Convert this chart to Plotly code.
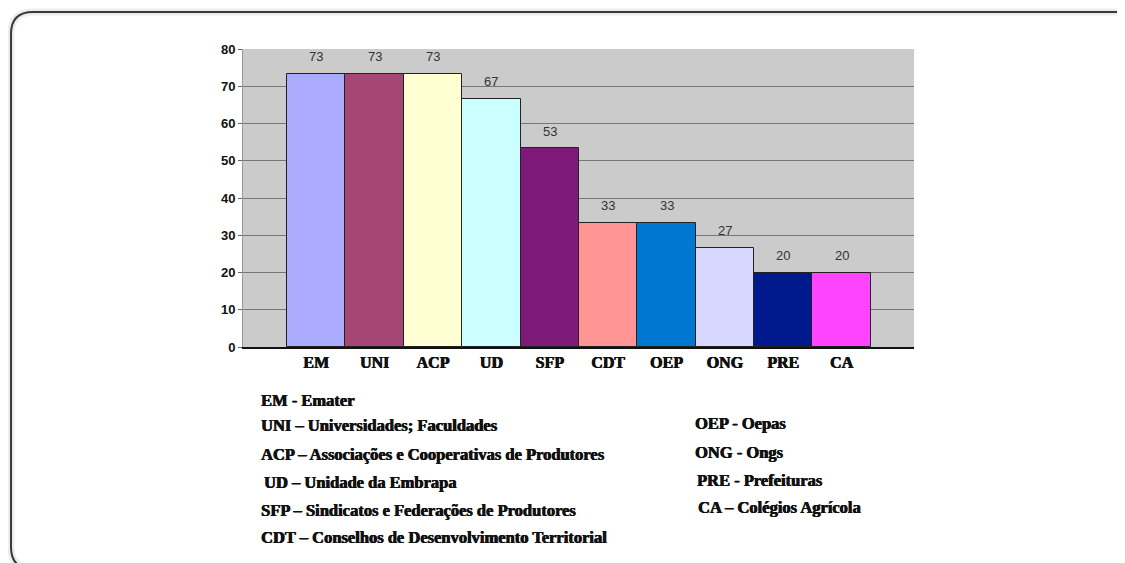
import plotly.graph_objects as go

categories = ["EM", "UNI", "ACP", "UD", "SFP", "CDT", "OEP", "ONG", "PRE", "CA"]
values = [73.3, 73.3, 73.3, 66.7, 53.3, 33.3, 33.3, 26.7, 20.0, 20.0]
value_labels = ["73", "73", "73", "67", "53", "33", "33", "27", "20", "20"]
bar_colors = ["#aaaaff", "#a64674", "#ffffd3", "#ccffff", "#7d1a7a",
              "#ff9494", "#0078d2", "#d8d8ff", "#001a8e", "#ff44ff"]
y_ticks = [0, 10, 20, 30, 40, 50, 60, 70, 80]

legend_left = [
    "EM - Emater",
    "UNI – Universidades; Faculdades",
    "ACP – Associações e Cooperativas de Produtores",
    "UD – Unidade da Embrapa",
    "SFP – Sindicatos e Federações de Produtores",
    "CDT – Conselhos de Desenvolvimento Territorial",
]
legend_right = [
    "OEP - Oepas",
    "ONG - Ongs",
    "PRE - Prefeituras",
    "CA – Colégios Agrícola",
]

OFF = 8  # browser default body margin
W, H = 1125 - OFF, 563 - OFF
PL, PR, PT, PB = 243, 914, 49, 347  # plot area in page pixels


def fx(px):
    return (px - PL) / (PR - PL)


def fy(py):
    return (PB - py) / (PB - PT)


narrow = "Liberation Sans Narrow, Arial Narrow, Liberation Sans, Arial"

fig = go.Figure()
fig.add_trace(go.Bar(
    x=categories, y=values,
    marker=dict(color=bar_colors, line=dict(color="#222222", width=1)),
    width=1.0, hoverinfo="x+y",
))

annotations = []
for c, v, t in zip(categories, values, value_labels):
    annotations.append(dict(
        x=c, y=v, xref="x", yref="y", text=t, showarrow=False,
        yanchor="middle", yshift=17,
        font=dict(family=narrow, size=13, color="#333333"),
    ))

serif = "Liberation Serif, Times New Roman, serif"
heavy = "0.5px 0 0 #111111, -0.3px 0 0 #111111"
left_pos = [(259, 400), (259, 425), (259, 454), (262, 482), (259, 510), (259, 537)]
for (px, py), t in zip(left_pos, legend_left):
    annotations.append(dict(
        x=fx(px), y=fy(py), xref="paper", yref="paper", text=t,
        showarrow=False, xanchor="left", yanchor="middle",
        font=dict(family=serif, size=16.5, color="#111111", weight="bold",
                  shadow=heavy),
    ))
right_pos = [(693, 423), (693, 452), (695, 480), (696, 507)]
for (px, py), t in zip(right_pos, legend_right):
    annotations.append(dict(
        x=fx(px), y=fy(py), xref="paper", yref="paper", text=t,
        showarrow=False, xanchor="left", yanchor="middle",
        font=dict(family=serif, size=16.5, color="#111111", weight="bold",
                  shadow=heavy),
    ))

# rounded frame
L, R, T, B, r = 11, 1140, 12, 569, 22
path = (
    f"M {fx(L)},{fy(T + r)} Q {fx(L)},{fy(T)} {fx(L + r)},{fy(T)} "
    f"L {fx(R - r)},{fy(T)} Q {fx(R)},{fy(T)} {fx(R)},{fy(T + r)} "
    f"L {fx(R)},{fy(B - r)} Q {fx(R)},{fy(B)} {fx(R - r)},{fy(B)} "
    f"L {fx(L + r)},{fy(B)} Q {fx(L)},{fy(B)} {fx(L)},{fy(B - r)} Z"
)
shapes = [
    dict(type="path", xref="paper", yref="paper", path=path,
         line=dict(color="rgba(0,0,0,0.07)", width=7), layer="below"),
    dict(type="path", xref="paper", yref="paper", path=path,
         line=dict(color="#3a3a3a", width=2), layer="above"),
]

fig.update_layout(
    width=W, height=H,
    margin=dict(l=PL - OFF, r=1125 - PR, t=PT - OFF, b=563 - PB, pad=0),
    paper_bgcolor="white", plot_bgcolor="#cbcbcb",
    bargap=0, showlegend=False,
    annotations=annotations, shapes=shapes,
    xaxis=dict(
        type="category", range=[-1.255, 10.24],
        showgrid=False, showline=True, linecolor="#111111", linewidth=1.5,
        ticks="", ticklabelstandoff=0,
        tickfont=dict(family=serif, size=16, color="#111111", weight="bold",
                      shadow=heavy),
    ),
    yaxis=dict(
        range=[0, 80], tickvals=y_ticks,
        showgrid=True, gridcolor="#777777", gridwidth=1.3,
        ticks="outside", ticklen=4, tickcolor="#666666",
        showline=True, linecolor="#999999", linewidth=1,
        tickfont=dict(family=narrow, size=13, color="#111111", weight="bold"),
        zeroline=False,
    ),
)

fig.write_html("out.html")
